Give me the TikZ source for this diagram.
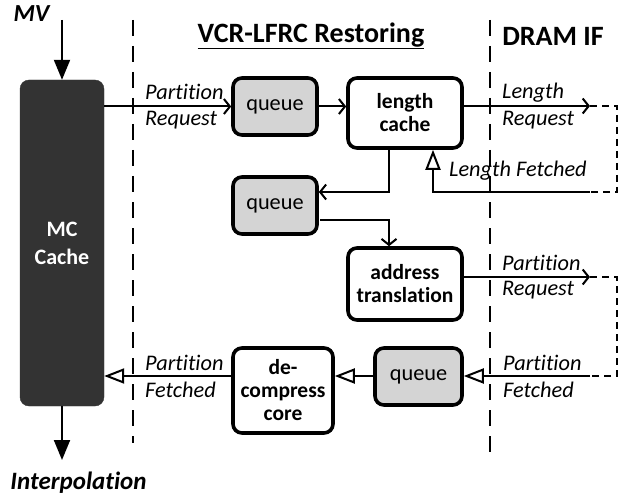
\documentclass[tikz,border=0pt]{standalone}
\usepackage{fontspec}
\setmainfont{Carlito}[Ligatures=NoCommon]
\usetikzlibrary{arrows.meta}
\definecolor{mcfill}{HTML}{333333}
\definecolor{qfill}{HTML}{D4D4D4}
\begin{document}
\begin{tikzpicture}[x=1pt,y=-1pt,
  every node/.style={font=\fontsize{22}{24}\selectfont},
  blk/.style={draw, line width=3.6pt, rounded corners=9pt, align=center, inner sep=0pt, font=\fontsize{21.5}{23}\selectfont\bfseries},
  qbox/.style={draw, line width=3.6pt, rounded corners=9pt, fill=qfill, inner sep=0pt, minimum width=84pt, minimum height=57pt, font=\fontsize{22.3}{24}\selectfont},
  conn/.style={line width=2pt},
  barb/.style={conn, -{Straight Barb[length=6pt,width=15pt,line width=2pt]}},
  hollow/.style={conn, -{Triangle[open,length=20pt,width=15pt,line width=2pt]}},
  solidtip/.style={conn, -{Triangle[length=20pt,width=16pt]}},
  lab/.style={anchor=west, inner sep=0pt, font=\fontsize{22.3}{24}\selectfont\itshape},
  divider/.style={line width=2.8pt, dash pattern=on 16pt off 10pt},
  loop/.style={line width=1.6pt, dash pattern=on 7pt off 5pt}
]
\useasboundingbox (0,0) rectangle (626,497);

% dividers
\coordinate (d1t) at (133,20);
\coordinate (d1b) at (133,443);
\coordinate (d2t) at (490,20);
\coordinate (d2b) at (490,462);
\draw[divider] (d1t) -- (d1b);
\draw[divider] (d2t) -- (d2b);

% titles
\node[inner sep=0pt, font=\fontsize{28}{30}\selectfont\bfseries] (title) at (311,36) {\underline{VCR-LFRC Restoring}};
\node[inner sep=0pt, font=\fontsize{28}{30}\selectfont\bfseries] (dram) at (553,36) {DRAM IF};

% MC cache
\node[draw=mcfill, fill=mcfill, rounded corners=9pt, minimum width=84pt, minimum height=326pt, inner sep=0pt,
      text=white, align=center, font=\fontsize{22}{28}\selectfont\bfseries] (mc) at (62,243) {MC\\Cache};

\node[inner sep=0pt, font=\fontsize{24.5}{26}\selectfont\bfseries\itshape] (mv) at (31.5,14) {MV};
\node[inner sep=0pt, font=\fontsize{25}{27}\selectfont\bfseries\itshape] (interp) at (78.5,483) {Interpolation};
\coordinate (mvs) at (62,20);
\coordinate (inte) at (62,460);
\draw[solidtip] (mvs) -- (mc.north);
\draw[solidtip] (mc.south) -- (inte);

% blocks
\node[qbox] (q1) at (275,106.5) {queue};
\node[blk, minimum width=114pt, minimum height=70pt] (lc) at (405,113) {length\\cache};
\node[qbox] (q2) at (275,205.5) {queue};
\node[blk, minimum width=114pt, minimum height=72pt] (at) at (405,284) {address\\translation};
\node[qbox, minimum width=87pt] (q3) at (418.5,376.5) {queue};
\node[blk, minimum width=100pt, minimum height=85pt] (dc) at (283,390.5) {de-\\compress\\core};

% coordinates for external loops
\coordinate (lrq) at (590,106);
\coordinate (lrc) at (617,106);
\coordinate (lfc) at (617,192);
\coordinate (lf) at (590,192);
\coordinate (lfx) at (433,192);
\coordinate (prq) at (590,277);
\coordinate (prc) at (617,277);
\coordinate (pfc) at (617,376);
\coordinate (pf) at (590,376);

% partition request from MC to queue1
\draw[barb] (mc.east |- q1.west) -- (q1.west);
\node[lab] (l1a) at (145,92) {Partition};
\node[lab] (l1b) at (145,120) {Request};

% queue1 -> length cache
\draw[barb] (q1.east) -- (q1.east -| lc.west);

% length request
\draw[barb] (lc.east |- lrq) -- (lrq);
\draw[loop] (lrq) -- (lrc) -- (lfc) -- (lf);
\node[lab] (l2a) at (502,93) {Length};
\node[lab] (l2b) at (502,120) {Request};

% length fetched
\draw[hollow] (lf) -- (lfx) -- (lfx |- lc.south);
\node[lab] (l3) at (449,171) {Length Fetched};

% length cache -> queue2
\coordinate (lcb) at (389,148);
\draw[barb] (lcb) |- (q2.east |- lf);

% queue2 -> address translation
\coordinate (q2o) at (320,220);
\draw[barb] (q2o) -| (at.north -| lcb);

% partition request to DRAM
\draw[barb] (at.east |- prq) -- (prq);
\draw[loop] (prq) -- (prc) -- (pfc) -- (pf);
\node[lab] (l4a) at (502,263) {Partition};
\node[lab] (l4b) at (502,290) {Request};

% partition fetched from DRAM
\draw[hollow] (pf) -- (q3.east |- pf);
\node[lab] (l5a) at (503,363) {Partition};
\node[lab] (l5b) at (503,390) {Fetched};

% queue3 -> decompress
\draw[hollow] (q3.west |- pf) -- (dc.east |- pf);

% decompress -> MC
\draw[hollow] (dc.west |- pf) -- (mc.east |- pf);
\node[lab] (l6a) at (145,363) {Partition};
\node[lab] (l6b) at (145,390) {Fetched};
\end{tikzpicture}
\end{document}
